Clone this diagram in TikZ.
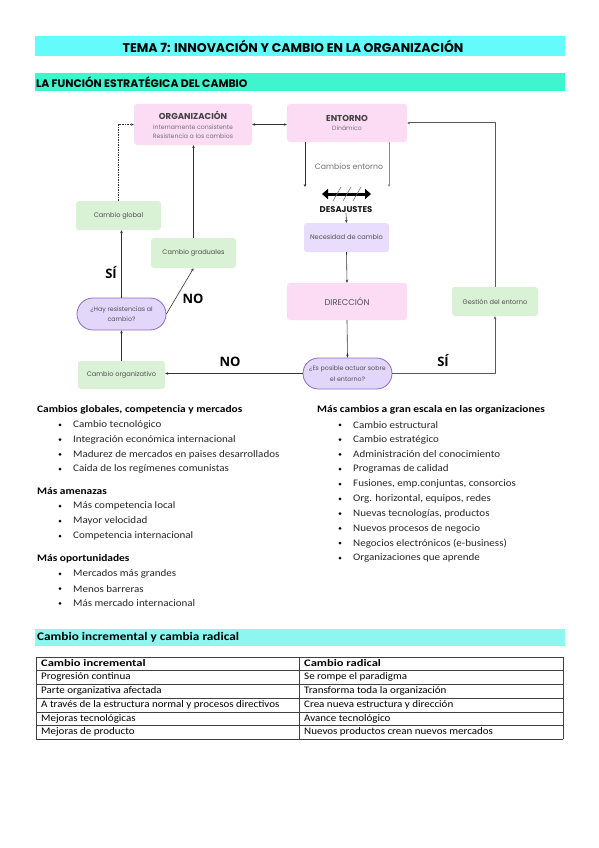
\documentclass[tikz,border=0pt]{standalone}
\usepackage{fontspec}
\setmainfont{Carlito}
\newfontfamily\pop{Poppins}
\newfontfamily\osans{Open Sans}
\newfontfamily\itemfont[FakeStretch=1.1]{Carlito}
\newfontfamily\headfont[FakeStretch=1.14]{Carlito}
\newfontfamily\cellfont[FakeStretch=1.1]{Carlito}
\newfontfamily\cellheadfont[FakeStretch=1.25]{Carlito}
\usetikzlibrary{arrows.meta,shapes.misc,calc}
\definecolor{titlecyan}{HTML}{64FBFD}
\definecolor{bartwo}{HTML}{3EF5CE}
\definecolor{barthree}{HTML}{8CF6EF}
\definecolor{pinkbox}{HTML}{FCDCF5}
\definecolor{lavbox}{HTML}{E8DDFD}
\definecolor{pillfill}{HTML}{E3D6FB}
\definecolor{pillline}{HTML}{8A6CC8}
\definecolor{greenbox}{HTML}{D9F1D4}
\definecolor{boxtext}{HTML}{505050}
\definecolor{subtext}{HTML}{707070}
\definecolor{conn}{HTML}{333333}
\tikzset{
  box/.style={draw=none, rounded corners=3pt, align=center, inner sep=1pt, text=boxtext, font=\pop\fontsize{6.6}{8}\selectfont},
  pinkb/.style={box, fill=pinkbox},
  lavb/.style={box, fill=lavbox},
  greenb/.style={box, fill=greenbox},
  pill/.style={rounded rectangle, draw=pillline, line width=0.8pt, fill=pillfill, align=center, inner sep=1pt, text=boxtext, font=\pop\fontsize{6.3}{10.5}\selectfont},
  boxtitle/.style={inner sep=0pt, text=boxtext!80!black, font=\pop\bfseries\fontsize{8.6}{9}\selectfont},
  boxsub/.style={inner sep=0pt, text=subtext, font=\pop\fontsize{6.2}{7}\selectfont},
  conarrow/.style={draw=conn, line width=0.6pt, -{Stealth[length=3pt,width=2.6pt]}},
  yesno/.style={font=\osans\bfseries\fontsize{13}{13}\selectfont, text=black, inner sep=0pt},
  bar/.style={inner sep=0pt},
  listhead/.style={anchor=west, inner sep=0pt, font=\headfont\bfseries\fontsize{10}{11}\selectfont},
  listitem/.style={anchor=west, inner sep=0pt, font=\itemfont\fontsize{10}{11}\selectfont, text=black!85},
  cell/.style={anchor=west, inner sep=0pt, font=\cellfont\fontsize{10}{11}\selectfont},
  cellhead/.style={anchor=west, inner sep=0pt, font=\cellheadfont\bfseries\fontsize{10}{11}\selectfont},
}
\begin{document}
\begin{tikzpicture}[x=1pt,y=-1pt]
\useasboundingbox[fill=white] (0,0) rectangle (599,848);
% title bars
\fill[titlecyan] (35,36) rectangle (565,56);
\node[bar, font=\pop\bfseries\fontsize{12.6}{13}\selectfont] (title) at (293,46) {TEMA 7: INNOVACIÓN Y CAMBIO EN LA ORGANIZACIÓN};
\fill[bartwo] (35,73) rectangle (565,91);
\node[bar, anchor=west, font=\pop\bfseries\fontsize{10.9}{11}\selectfont] (sec1) at (36,82) {LA FUNCIÓN ESTRATÉGICA DEL CAMBIO};

% diagram nodes
\node[pinkb, minimum width=118pt, minimum height=41pt] (org) at (193,124.5) {};
\node[boxtitle] (orgt) at ($(org.center)+(0,-9.5)$) {ORGANIZACIÓN};
\node[boxsub] (orgs1) at ($(org.center)+(0,2.5)$) {Internamente consistente};
\node[boxsub] (orgs2) at ($(org.center)+(0,11.5)$) {Resistencia a los cambios};
\node[pinkb, minimum width=120pt, minimum height=38pt] (ent) at (347,123) {};
\node[boxtitle] (entt) at ($(ent.center)+(0,-5)$) {ENTORNO};
\node[boxsub] (ents) at ($(ent.center)+(0,5.5)$) {Dinámico};
\node[greenb, minimum width=85pt, minimum height=29pt] (glob) at (118.5,215.5) {Cambio global};
\node[greenb, minimum width=85pt, minimum height=30pt] (grad) at (193.5,253) {Cambio graduales};
\node[lavb, minimum width=85pt, minimum height=29pt] (nec) at (346.5,237.5) {Necesidad de cambio};
\node[pinkb, minimum width=120pt, minimum height=37pt, font=\pop\fontsize{8.4}{9}\selectfont] (dir) at (347,301.5) {DIRECCIÓN};
\node[pill, minimum width=91pt, minimum height=32pt] (hay) at (121.5,314) {¿Hay resistencias al\\cambio?};
\node[pill, minimum width=91pt, minimum height=31pt] (pos) at (347.5,373.5) {¿Es posible actuar sobre\\el entorno?};
\node[greenb, minimum width=86pt, minimum height=29pt] (ges) at (495,301.5) {Gestión del entorno};
\node[greenb, minimum width=87pt, minimum height=28pt] (corg) at (121.5,375) {Cambio organizativo};

\node[inner sep=0pt, text=subtext, font=\pop\fontsize{7.8}{8}\selectfont] (camb) at (349,167) {Cambios entorno};
\node[inner sep=0pt, text=black!90, font=\pop\bfseries\fontsize{8.4}{9}\selectfont] (desa) at (346,210) {DESAJUSTES};

% coordinates
\coordinate (cl) at (305,187);
\coordinate (cr) at (389,187);
\coordinate (da1) at (322,194);
\coordinate (da2) at (371,194);
\coordinate (dac) at (347,194);

% connectors
\draw[conarrow, {Stealth[length=3pt,width=2.6pt]}-{Stealth[length=3pt,width=2.6pt]}] (org.east) -- (org.east -| ent.west);
\draw[conarrow] (cl |- ent.south) -- (cl);
\draw[conarrow, draw=black!45] (cr |- ent.south) -- (cr);
\draw[line width=3pt, {Triangle[length=6pt,width=10pt]}-{Triangle[length=6pt,width=10pt]}] (da1) -- (da2);
\foreach \dx in {-10,0,10}{ \draw[black!55, line width=0.6pt] ($(dac)+(\dx-4,7)$) -- ($(dac)+(\dx+4,-7)$); }
\draw[conarrow] (desa.south) -- (nec.north);
\draw[conarrow] (nec.south) -- (dir.north);
\draw[conarrow] (dir.south) -- (pos.north);
\draw[conarrow, draw=black!65, line width=0.9pt] (pos.east) -| (ges.south);
\draw[conarrow, draw=black!65, line width=1pt] (ges.north) |- (ent.east);
\draw[conarrow] (pos.west) -- (pos.west -| corg.east);
\draw[conarrow, line width=0.9pt] (corg.north) -- (hay.south);
\draw[conarrow, line width=0.9pt] (hay.north) -- (hay.north |- glob.south);
\draw[conarrow, dashed, dash pattern=on 1.5pt off 1pt] (glob.north) |- (org.west);
\draw[conarrow] (hay.east) -- (grad.south);
\draw[conarrow] (grad.north) -- (grad.north |- org.south);

% labels
\node[yesno] (si1) at (111,273) {SÍ};
\node[yesno] (no1) at (193,299) {NO};
\node[yesno] (no2) at (230,362) {NO};
\node[yesno] (si2) at (443,361) {SÍ};

% left list
\node[listhead] (lh1) at (37,410) {Cambios globales, competencia y mercados};
\foreach \t [count=\i] in {Cambio tecnológico, Integración económica internacional, Madurez de mercados en paises desarrollados, Caida de los regímenes comunistas}{
  \fill (60,410+14.8*\i) circle (1.5pt);
  \node[listitem] (la\i) at (73,410+14.8*\i) {\t};
}
\node[listhead] (lh2) at (37,491) {Más amenazas};
\foreach \t [count=\i] in {Más competencia local, Mayor velocidad, Competencia internacional}{
  \fill (60,491+15*\i) circle (1.5pt);
  \node[listitem] (lb\i) at (73,491+15*\i) {\t};
}
\node[listhead] (lh3) at (37,559) {Más oportunidades};
\foreach \t [count=\i] in {Mercados más grandes, Menos barreras, Más mercado internacional}{
  \fill (60,559+14.8*\i) circle (1.5pt);
  \node[listitem] (lc\i) at (73,559+14.8*\i) {\t};
}
% right list
\node[listhead] (rh1) at (317,410) {Más cambios a gran escala en las organizaciones};
\foreach \t [count=\i] in {Cambio estructural, Cambio estratégico, Administración del conocimiento, Programas de calidad, {Fusiones, emp.conjuntas, consorcios}, {Org. horizontal, equipos, redes}, {Nuevas tecnologías, productos}, Nuevos procesos de negocio, Negocios electrónicos (e-business), Organizaciones que aprende}{
  \fill (340,410+14.8*\i) circle (1.5pt);
  \node[listitem] (ra\i) at (353,410+14.8*\i) {\t};
}

% section 3
\fill[barthree] (35,629) rectangle (565,646);
\node[bar, anchor=west, font=\headfont\bfseries\fontsize{11.6}{12}\selectfont] (sec3) at (37,637.5) {Cambio incremental y cambia radical};

% table
\foreach \y in {657,670,684,698,712,725,739}{ \draw[black!75, line width=0.5pt] (36,\y) -- (563,\y); }
\foreach \x in {36,299,563}{ \draw[black!75, line width=0.5pt] (\x,657) -- (\x,739); }
\node[cellhead] (t01) at (41,663.5) {Cambio incremental};
\node[cellhead] (t02) at (304,663.5) {Cambio radical};
\node[cell] (t11) at (41,677) {Progresión continua};
\node[cell] (t12) at (304,677) {Se rompe el paradigma};
\node[cell] (t21) at (41,691) {Parte organizativa afectada};
\node[cell] (t22) at (304,691) {Transforma toda la organización};
\node[cell] (t31) at (41,705) {A través de la estructura normal y procesos directivos};
\node[cell] (t32) at (304,705) {Crea nueva estructura y dirección};
\node[cell] (t41) at (41,718.5) {Mejoras tecnológicas};
\node[cell] (t42) at (304,718.5) {Avance tecnológico};
\node[cell] (t51) at (41,732) {Mejoras de producto};
\node[cell] (t52) at (304,732) {Nuevos productos crean nuevos mercados};
\end{tikzpicture}
\end{document}
